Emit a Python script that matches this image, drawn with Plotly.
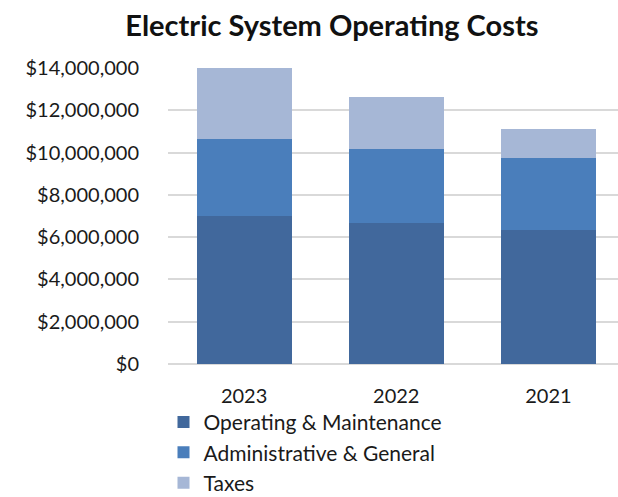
import plotly.graph_objects as go

years = ["2023", "2022", "2021"]
om_costs = [7010000, 6670000, 6350000]
ag_costs = [3640000, 3500000, 3410000]
tax_costs = [3350000, 2450000, 1360000]

series = [
    ("Operating & Maintenance", om_costs, "#41689C"),
    ("Administrative & General", ag_costs, "#4A7EBB"),
    ("Taxes", tax_costs, "#A6B7D6"),
]

tick_vals = [0, 2000000, 4000000, 6000000, 8000000, 10000000, 12000000, 14000000]
tick_text = ["$0", "$2,000,000", "$4,000,000", "$6,000,000", "$8,000,000",
             "$10,000,000", "$12,000,000", "$14,000,000"]

fig = go.Figure()
for name, vals, color in series:
    fig.add_trace(go.Bar(
        x=years, y=vals, name=name, legendgroup=name,
        marker=dict(color=color, line=dict(width=0)),
    ))

font = "Lato, 'Open Sans', sans-serif"
fig.update_layout(
    width=618, height=497,
    barmode="stack", bargap=0.377,
    plot_bgcolor="white", paper_bgcolor="white",
    margin=dict(l=168, r=0, t=68, b=133, autoexpand=False),
    title=dict(text="<b>Electric System Operating Costs</b>",
               x=0.537, xanchor="center", y=0.948, yanchor="middle",
               font=dict(family=font, size=29, color="#111111")),
    xaxis=dict(range=[-0.5, 2.457], showgrid=False, showline=False,
               ticks="", ticklabelstandoff=18,
               tickfont=dict(family=font, size=20, color="#1a1a1a")),
    yaxis=dict(range=[0, 14000000], tickvals=tick_vals, ticktext=tick_text,
               showgrid=True, gridcolor="#D9D9D9", gridwidth=1.5,
               zeroline=True, zerolinecolor="#D9D9D9", zerolinewidth=1.5,
               showline=False, ticks="", ticklabelstandoff=28,
               tickfont=dict(family=font, size=20, color="#1a1a1a")),
    legend=dict(x=-0.01, xanchor="left", y=-0.128, yanchor="top",
                traceorder="grouped", tracegroupgap=0,
                font=dict(family=font, size=21, color="#1a1a1a"),
                bgcolor="rgba(0,0,0,0)"),
    showlegend=True,
)

fig.write_html("out.html")
